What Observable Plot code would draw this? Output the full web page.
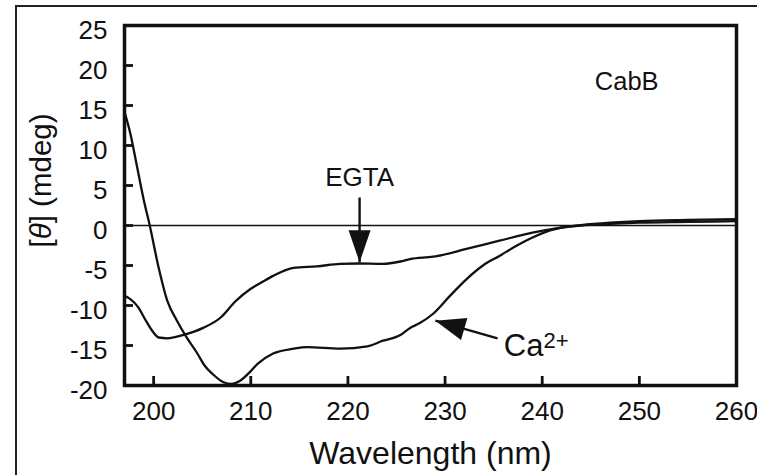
<!DOCTYPE html>
<html><head><meta charset="utf-8">
<script src="https://cdn.jsdelivr.net/npm/d3@7"></script>
<script src="https://cdn.jsdelivr.net/npm/@observablehq/plot@0.6"></script>
<style>
html,body{margin:0;padding:0;background:#fff;}
#wrap{position:relative;width:757px;height:475px;overflow:hidden;background:#fff;}
#border{position:absolute;left:15px;top:5px;width:900px;height:700px;border-left:2px solid #222;border-top:2px solid #222;z-index:2;pointer-events:none;}
#chart{position:absolute;left:0;top:0;z-index:1;}
</style></head><body>
<div id="wrap"><div id="border"></div><div id="chart"></div></div>
<script>
// Ca2+ curve
const caWavelength = [197, 197.6, 198.3, 199, 199.6, 200.5, 201.4, 202.4, 203.3, 204.5, 205.3, 206.1, 207.2, 208, 208.9, 210, 210.7, 212.3, 214.4, 215.8, 219.2, 222, 223.6, 225.4, 226.4, 227.4, 228.8, 230.5, 232.3, 233.9, 235.6, 237.4, 239, 240.8, 242, 244, 247, 250, 255, 260];
const caTheta      = [14.2, 11.5, 7.3, 3.1, 0, -5.2, -9.4, -11.9, -13.8, -16, -17.6, -18.6, -19.6, -19.8, -19.4, -18.2, -17.3, -16, -15.4, -15.2, -15.4, -15.1, -14.4, -13.7, -12.8, -12.2, -11, -8.8, -6.6, -5, -3.8, -2.5, -1.5, -0.6, -0.25, 0.05, 0.35, 0.55, 0.7, 0.8];
// EGTA curve
const egtaWavelength = [197, 197.6, 198.4, 199.2, 200, 200.5, 201.4, 203, 205.1, 206.9, 208.4, 210, 211, 212.3, 214.4, 216.8, 219.2, 221, 223.6, 225.4, 226.4, 228.8, 232.3, 235.6, 239, 241.8, 244, 247, 250, 255, 260];
const egtaTheta      = [-8.8, -9.2, -10.2, -11.9, -13.4, -14, -14.1, -13.7, -12.8, -11.5, -9.5, -7.9, -7.2, -6.3, -5.3, -5.1, -4.8, -4.75, -4.8, -4.5, -4.2, -3.9, -2.9, -1.9, -0.9, -0.3, 0, 0.2, 0.35, 0.45, 0.55];
// axes
const xTicks = [200, 210, 220, 230, 240, 250, 260];
const yTicks = [-20, -15, -10, -5, 0, 5, 10, 15, 20, 25];
const xDomain = [197, 260];
const yDomain = [-20, 25];
const xLabel = "Wavelength (nm)";
const yLabel = "[θ] (mdeg)";
// annotations
const labelText = ["EGTA", "CabB", "Ca2+"];
const labelX = [221.2, 248.7, 236.05];
const labelY = [5, 16.96, -16.25];
const egtaArrow = {x1: 221.2, y1: 3.5, x2: 221.2, y2: -4.6};
const caArrow = {x1: 235.4, y1: -14.1, x2: 229.0, y2: -11.9};

const ink = "#111";
const fontFamily = '"Liberation Sans", Arial, Helvetica, sans-serif';
const ca = caWavelength.map((w, i) => ({w, v: caTheta[i]}));
const egta = egtaWavelength.map((w, i) => ({w, v: egtaTheta[i]}));
const labels = labelText.map((t, i) => ({t, x: labelX[i], y: labelY[i]}));

const W = 757, H = 475, mL = 124, mR = 21, mT = 25, mB = 90, tick = 9;
const innerW = W - mL - mR, innerH = H - mT - mB;

function head(angleDeg, len, half) {
  const a = angleDeg * Math.PI / 180, c = Math.cos(a), s = Math.sin(a);
  const rot = ([x, y]) => [x * c - y * s, x * s + y * c];
  const pts = [[0, 0], [-half, len], [half, len]].map(rot);
  return {draw(ctx) { ctx.moveTo(...pts[0]); ctx.lineTo(...pts[1]); ctx.lineTo(...pts[2]); ctx.closePath(); }};
}
const plain = d => `${d}`;

const plot = Plot.plot({
  width: W, height: H,
  marginLeft: mL, marginRight: mR, marginTop: mT, marginBottom: mB,
  style: {fontFamily, color: ink},
  x: {domain: xDomain},
  y: {domain: yDomain},
  marks: [
    Plot.ruleY([0], {stroke: ink, strokeWidth: 1.6}),
    Plot.line(ca, {x: "w", y: "v", curve: "monotone-x", stroke: ink, strokeWidth: 2.3}),
    Plot.line(egta, {x: "w", y: "v", curve: "monotone-x", stroke: ink, strokeWidth: 2.3}),
    Plot.link([egtaArrow, caArrow], {x1: "x1", y1: "y1", x2: "x2", y2: "y2", stroke: ink, strokeWidth: 2.4}),
    Plot.dot([egtaArrow], {x: "x2", y: "y2", symbol: head(180, 32, 11), fill: ink, stroke: "none", r: 10}),
    Plot.dot([caArrow], {x: "x2", y: "y2", symbol: head(-74, 30, 11.5), fill: ink, stroke: "none", r: 10}),
    Plot.text(labels.slice(0, 1), {x: "x", y: "y", text: "t", fontSize: 26, textAnchor: "middle", lineAnchor: "bottom", fill: ink}),
    Plot.text(labels.slice(1, 2), {x: "x", y: "y", text: "t", fontSize: 25.5, textAnchor: "middle", lineAnchor: "bottom", fill: ink}),
    Plot.text(labels.slice(2), {x: "x", y: "y", text: "t", fontSize: 31, textAnchor: "start", lineAnchor: "bottom", fill: ink}),
    Plot.axisX(xTicks, {tickSize: 0, tickPadding: 16, fontSize: 26, label: null, tickFormat: plain}),
    Plot.axisY(yTicks, {tickSize: 0, tickPadding: 17, fontSize: 26, label: null, dy: 5, tickFormat: plain}),
    Plot.frame({strokeWidth: 3.5}),
    Plot.tickX(xTicks, {x: d => d, insetTop: innerH - tick, stroke: ink, strokeWidth: 2.8}),
    Plot.tickY(yTicks, {y: d => d, insetRight: innerW - tick, stroke: ink, strokeWidth: 2.8}),
    Plot.text([xLabel], {frameAnchor: "bottom", dy: 78, lineAnchor: "bottom", textAnchor: "middle", fontSize: 32, fill: ink}),
    Plot.text([yLabel], {frameAnchor: "left", dx: -83, dy: -25, rotate: -90, textAnchor: "middle", lineAnchor: "middle", fontSize: 29.5, fill: ink})
  ]
});

const svgns = "http://www.w3.org/2000/svg";
plot.querySelectorAll("text").forEach(t => {
  if (t.textContent === "Ca2+") {
    t.textContent = "Ca";
    const s = document.createElementNS(svgns, "tspan");
    s.setAttribute("dy", "-8");
    s.setAttribute("font-size", "22");
    s.textContent = "2+";
    t.appendChild(s);
  } else if (t.textContent === yLabel) {
    t.textContent = "";
    const parts = [["[", null], ["θ", "italic"], ["] (mdeg)", null]];
    for (const [txt, st] of parts) {
      const s = document.createElementNS(svgns, "tspan");
      if (st) s.setAttribute("font-style", st);
      s.textContent = txt;
      t.appendChild(s);
    }
  }
});
document.getElementById("chart").appendChild(plot);
</script>
</body></html>
